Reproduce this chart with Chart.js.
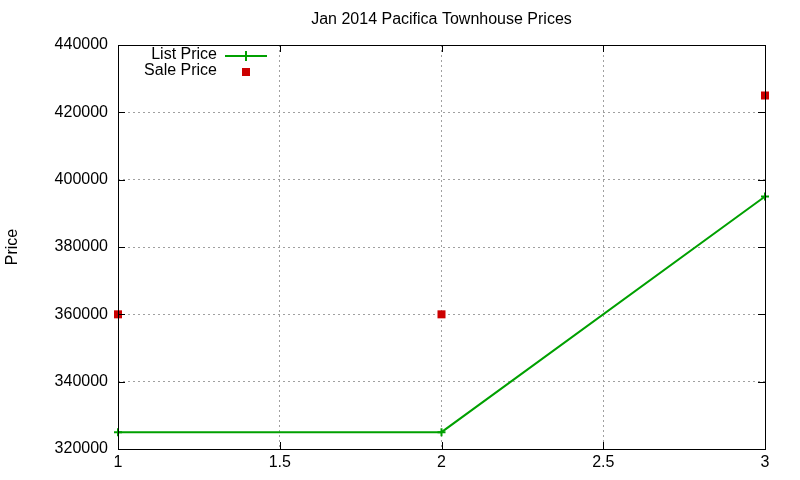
<!DOCTYPE html>
<html>
<head>
<meta charset="utf-8">
<script src="https://cdn.jsdelivr.net/npm/chart.js@4/dist/chart.umd.min.js"></script>
<style>
  html, body { margin: 0; padding: 0; background: #fff; }
  #wrap { width: 800px; height: 480px; }
</style>
</head>
<body>
<div id="wrap"><canvas id="chart" width="800" height="480"></canvas></div>
<script>
// Data
const months = [1, 2, 3];
const listPrice = [325000, 325000, 395000];
const salePrice = [360000, 360000, 425000];
const xTicks = [1, 1.5, 2, 2.5, 3];
const yTicks = [320000, 340000, 360000, 380000, 400000, 420000, 440000];

const FONT = "'Liberation Sans', Arial, sans-serif";
const FSIZE = 16;
const GREEN = '#00a000';
const RED = '#cc0000';

// Title, border, inward ticks and key drawn like gnuplot does
const gnuplotFrame = {
  id: 'gnuplotFrame',
  afterDraw(chart) {
    const { ctx, chartArea: a, scales } = chart;
    ctx.save();

    // border
    ctx.strokeStyle = '#000';
    ctx.lineWidth = 1;
    ctx.strokeRect(a.left + 0.5, a.top + 0.5, a.right - a.left, a.bottom - a.top);

    // inward ticks on all sides
    ctx.beginPath();
    xTicks.forEach(v => {
      const x = Math.round(scales.x.getPixelForValue(v)) + 0.5;
      ctx.moveTo(x, a.bottom); ctx.lineTo(x, a.bottom - 7);
      ctx.moveTo(x, a.top); ctx.lineTo(x, a.top + 7);
    });
    yTicks.forEach(v => {
      const y = Math.round(scales.y.getPixelForValue(v)) + 0.5;
      ctx.moveTo(a.left, y); ctx.lineTo(a.left + 7, y);
      ctx.moveTo(a.right, y); ctx.lineTo(a.right - 7, y);
    });
    ctx.stroke();

    // title
    ctx.fillStyle = '#000';
    ctx.font = FSIZE + 'px ' + FONT;
    ctx.textAlign = 'center';
    ctx.textBaseline = 'middle';
    ctx.fillText('Jan 2014 Pacifica Townhouse Prices', (a.left + a.right) / 2, 20);

    // key
    const ds = chart.data.datasets;
    ctx.textAlign = 'right';
    ctx.fillText(ds[0].label, 217, 55);
    ctx.fillText(ds[1].label, 217, 71);
    ctx.strokeStyle = GREEN;
    ctx.lineWidth = 2;
    ctx.beginPath();
    ctx.moveTo(225, 56); ctx.lineTo(267, 56);
    ctx.moveTo(246, 51); ctx.lineTo(246, 61);
    ctx.stroke();
    ctx.fillStyle = RED;
    ctx.fillRect(242, 68, 8, 8);

    ctx.restore();
  }
};

new Chart(document.getElementById('chart'), {
  type: 'scatter',
  data: {
    datasets: [
      {
        label: 'List Price',
        data: months.map((m, i) => ({ x: m, y: listPrice[i] })),
        showLine: true,
        clip: false,
        borderColor: GREEN,
        backgroundColor: GREEN,
        borderWidth: 2,
        pointStyle: 'cross',
        pointRadius: 4,
        pointBorderWidth: 2,
        tension: 0,
      },
      {
        label: 'Sale Price',
        data: months.map((m, i) => ({ x: m, y: salePrice[i] })),
        showLine: false,
        clip: false,
        borderColor: RED,
        backgroundColor: RED,
        pointStyle: 'rect',
        pointRadius: 5.66,
        pointBorderWidth: 0,
      },
    ],
  },
  options: {
    responsive: false,
    animation: false,
    devicePixelRatio: 1,
    layout: { padding: { top: 45, right: 35, bottom: 0, left: 0 } },
    plugins: {
      legend: { display: false },
      title: { display: false },
      tooltip: { enabled: false },
    },
    scales: {
      x: {
        type: 'linear',
        min: 1,
        max: 3,
        afterBuildTicks: s => { s.ticks = xTicks.map(v => ({ value: v })); },
        afterFit: s => { s.height = 31; },
        grid: { color: '#a0a0a0', drawTicks: false, lineWidth: 1 },
        border: { display: false, dash: [2, 3] },
        ticks: {
          color: '#000',
          padding: 4,
          font: { family: FONT, size: FSIZE },
          callback: v => String(v),
        },
      },
      y: {
        min: 320000,
        max: 440000,
        afterBuildTicks: s => { s.ticks = yTicks.map(v => ({ value: v })); },
        afterFit: s => { s.width = 118; },
        grid: { color: '#a0a0a0', drawTicks: false, lineWidth: 1 },
        border: { display: false, dash: [2, 3] },
        title: {
          display: true,
          text: 'Price',
          color: '#000',
          font: { family: FONT, size: FSIZE },
          padding: { top: 3, bottom: 0 },
        },
        ticks: {
          color: '#000',
          padding: 10,
          font: { family: FONT, size: FSIZE },
          callback: v => String(v),
        },
      },
    },
  },
  plugins: [gnuplotFrame],
});
</script>
</body>
</html>
